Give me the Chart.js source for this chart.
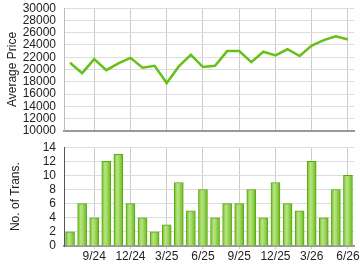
<!DOCTYPE html>
<html><head><meta charset="utf-8">
<script src="https://cdn.jsdelivr.net/npm/chart.js@4/dist/chart.umd.min.js"></script>
<style>
html,body{margin:0;padding:0;background:#fff;}
#wrap{position:relative;width:360px;height:270px;overflow:hidden;}
#c1{position:absolute;left:0;top:-7px;}
#c2{position:absolute;left:0;top:132px;}
</style></head><body>
<div id="wrap">
<canvas id="c1" width="360" height="153"></canvas>
<canvas id="c2" width="360" height="140"></canvas>
</div>
<script>
const months = ['7/24','8/24','9/24','10/24','11/24','12/24','1/25','2/25','3/25','4/25','5/25','6/25','7/25','8/25','9/25','10/25','11/25','12/25','1/26','2/26','3/26','4/26','5/26','6/26'];
const tickMonths = ['9/24','12/24','3/25','6/25','9/25','12/25','3/26','6/26'];
const avgPrice = [21100,19400,21700,19900,21000,21900,20300,20600,17800,20500,22400,20400,20600,23000,23000,21200,22900,22300,23300,22200,23900,24800,25400,24900];
const transactions = [2,6,4,12,13,6,4,2,3,9,5,8,4,6,6,8,4,9,6,5,12,4,8,10];

const FONT = 'Liberation Sans, Arial, sans-serif';
Chart.defaults.font.family = FONT;
Chart.defaults.animation = false;

const gridColor = (c) => (c.tick && tickMonths.includes(months[c.tick.value]) ? '#cccccc' : 'rgba(0,0,0,0)');

const line = new Chart(document.getElementById('c1'), {
  type: 'line',
  data: { labels: months, datasets: [{ data: avgPrice, borderColor: '#66c016', borderWidth: 2.5, pointRadius: 0, tension: 0, fill: false }] },
  options: {
    responsive: false,
    layout: { padding: { left: 0, right: 6, top: 0, bottom: 0 } },
    plugins: { legend: { display: false }, tooltip: { enabled: false } },
    scales: {
      x: {
        offset: true,
        grid: { offset: false, color: gridColor, drawTicks: false, lineWidth: 1 },
        border: { color: '#999999', width: 2 },
        ticks: { display: false, autoSkip: false },
        afterFit: s => { s.height = 10; }
      },
      y: {
        min: 10000, max: 30000,
        grid: { color: '#dddddd', drawTicks: false },
        border: { color: '#bbbbbb' },
        ticks: { stepSize: 2000, autoSkip: false, color: '#222', font: { size: 12 }, padding: 8, callback: v => String(v) },
        title: { display: true, text: 'Average Price', color: '#222', font: { size: 12 }, padding: { top: 5, bottom: 0 } },
        afterFit: s => { s.width = 64; }
      }
    }
  }
});

function barFill(c) {
  const el = c.element;
  const ch = c.chart;
  if (!el || !ch.ctx || !isFinite(el.x) || !el.width) return '#92d14f';
  const g = ch.ctx.createLinearGradient(el.x - el.width / 2, 0, el.x + el.width / 2, 0);
  g.addColorStop(0, '#72c020');
  g.addColorStop(0.35, '#b8e484');
  g.addColorStop(0.55, '#a6dc6a');
  g.addColorStop(1, '#6ab81c');
  return g;
}

const bar = new Chart(document.getElementById('c2'), {
  type: 'bar',
  data: { labels: months, datasets: [{ data: transactions, backgroundColor: barFill, borderColor: '#5aa814', borderWidth: 1, barThickness: 9 }] },
  options: {
    responsive: false,
    layout: { padding: { left: 0, right: 6, top: 0, bottom: 0 } },
    plugins: { legend: { display: false }, tooltip: { enabled: false } },
    scales: {
      x: {
        offset: true,
        grid: { offset: false, color: gridColor, tickLength: 3, tickColor: gridColor },
        border: { color: '#999999', width: 2 },
        ticks: { autoSkip: false, maxRotation: 0, color: '#222', font: { size: 12 }, padding: 0,
          callback: (v, i) => tickMonths.includes(months[i]) ? months[i] : '' },
        afterFit: s => { s.height = 26; }
      },
      y: {
        min: 0, max: 14,
        grid: { color: '#dddddd', drawTicks: false },
        border: { color: '#555555' },
        ticks: { stepSize: 2, autoSkip: false, color: '#222', font: { size: 12 }, padding: 8 },
        title: { display: true, text: 'No. of Trans.', color: '#222', font: { size: 12 }, padding: { top: 8, bottom: 0 } },
        afterFit: s => { s.width = 64; }
      }
    }
  }
});
bar.update();
</script>
</body></html>
